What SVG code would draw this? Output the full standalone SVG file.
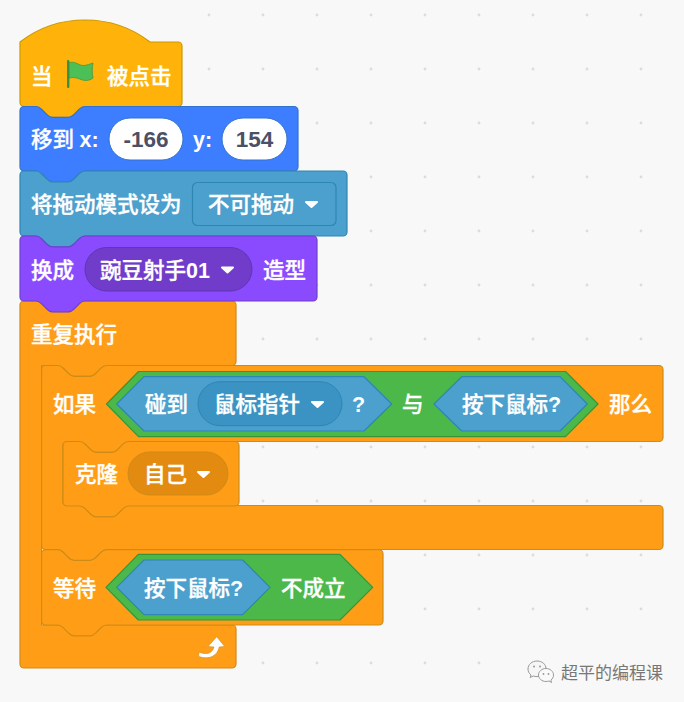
<svg xmlns="http://www.w3.org/2000/svg" width="684" height="702" viewBox="0 0 684 702">
<style>
.t{font-family:"Noto Sans CJK SC","Liberation Sans",sans-serif;font-size:21.5px;font-weight:500;fill:#fff;stroke:#fff;stroke-width:.35}
.l{font-family:"Liberation Sans",sans-serif;font-weight:700;stroke-width:0}
.v{font-family:"Liberation Sans",sans-serif;font-size:22.5px;font-weight:700;fill:#4b5066;text-anchor:middle}
.b{stroke-width:1.2;stroke-linejoin:round}
.ctl{fill:#ff9e16;stroke:#cf8b17}
.sen{fill:#4ca0cd;stroke:#2e86b4}
.op{fill:#4cb84a;stroke:#389438}
.arr{fill:#fff;stroke:#fff;stroke-width:2;stroke-linejoin:round}
.dot{fill:#dcdcdc}
</style>
<defs><circle id="d" r="1.4" class="dot"/></defs>
<rect width="684" height="702" fill="#f8f8f8"/>
<g id="grid">
<use href="#d" x="209" y="15"/><use href="#d" x="263" y="15"/><use href="#d" x="317" y="15"/><use href="#d" x="371" y="15"/><use href="#d" x="425" y="15"/><use href="#d" x="479" y="15"/><use href="#d" x="533" y="15"/><use href="#d" x="587" y="15"/><use href="#d" x="641" y="15"/>
<use href="#d" x="209" y="69"/><use href="#d" x="263" y="69"/><use href="#d" x="317" y="69"/><use href="#d" x="371" y="69"/><use href="#d" x="425" y="69"/><use href="#d" x="479" y="69"/><use href="#d" x="533" y="69"/><use href="#d" x="587" y="69"/><use href="#d" x="641" y="69"/>
<use href="#d" x="317" y="123"/><use href="#d" x="371" y="123"/><use href="#d" x="425" y="123"/><use href="#d" x="479" y="123"/><use href="#d" x="533" y="123"/><use href="#d" x="587" y="123"/><use href="#d" x="641" y="123"/>
<use href="#d" x="371" y="177"/><use href="#d" x="425" y="177"/><use href="#d" x="479" y="177"/><use href="#d" x="533" y="177"/><use href="#d" x="587" y="177"/><use href="#d" x="641" y="177"/>
<use href="#d" x="371" y="231"/><use href="#d" x="425" y="231"/><use href="#d" x="479" y="231"/><use href="#d" x="533" y="231"/><use href="#d" x="587" y="231"/><use href="#d" x="641" y="231"/>
<use href="#d" x="317" y="285"/><use href="#d" x="371" y="285"/><use href="#d" x="425" y="285"/><use href="#d" x="479" y="285"/><use href="#d" x="533" y="285"/><use href="#d" x="587" y="285"/><use href="#d" x="641" y="285"/>
<use href="#d" x="263" y="339"/><use href="#d" x="317" y="339"/><use href="#d" x="371" y="339"/><use href="#d" x="425" y="339"/><use href="#d" x="479" y="339"/><use href="#d" x="533" y="339"/><use href="#d" x="587" y="339"/><use href="#d" x="641" y="339"/>
<use href="#d" x="263" y="447"/><use href="#d" x="317" y="447"/><use href="#d" x="371" y="447"/><use href="#d" x="425" y="447"/><use href="#d" x="479" y="447"/><use href="#d" x="533" y="447"/><use href="#d" x="587" y="447"/><use href="#d" x="641" y="447"/>
<use href="#d" x="263" y="501"/><use href="#d" x="317" y="501"/><use href="#d" x="371" y="501"/><use href="#d" x="425" y="501"/><use href="#d" x="479" y="501"/><use href="#d" x="533" y="501"/><use href="#d" x="587" y="501"/><use href="#d" x="641" y="501"/>
<use href="#d" x="425" y="555"/><use href="#d" x="479" y="555"/><use href="#d" x="533" y="555"/><use href="#d" x="587" y="555"/><use href="#d" x="641" y="555"/>
<use href="#d" x="425" y="609"/><use href="#d" x="479" y="609"/><use href="#d" x="533" y="609"/><use href="#d" x="587" y="609"/><use href="#d" x="641" y="609"/>
<use href="#d" x="263" y="663"/><use href="#d" x="317" y="663"/><use href="#d" x="371" y="663"/><use href="#d" x="425" y="663"/><use href="#d" x="479" y="663"/>
</g>
<g id="connectors"></g>

<g id="repeat">
<path class="b ctl" d="M20 305a4 4 0 0 1 4-4h12.200c2.700 0 4 1.350 5.400 2.700l5.400 5.400c1.350 1.350 2.700 2.700 5.400 2.700h16.200c2.700 0 4-1.350 5.400-2.700l5.400-5.400c1.350-1.350 2.700-2.700 5.400-2.700H232a4 4 0 0 1 4 4v56.500a4 4 0 0 1-4 4H106.400c-2.700 0-4 1.350-5.400 2.700l-5.400 5.400c-1.350 1.350-2.700 2.700-5.400 2.700H74c-2.700 0-4-1.350-5.400-2.700l-5.400-5.400c-1.350-1.350-2.700-2.700-5.400-2.700H41.600V625H232a4 4 0 0 1 4 4v35a4 4 0 0 1-4 4H24a4 4 0 0 1-4-4z"/>
<text class="t" x="31" y="342">重复执行</text>
<path id="loop-arrow" d="M199 652c7 3 13 2 15-5l-6-.5 8.700-9.800 8 9.800-5.500.5c-1.500 8-9 13.500-20.500 9.500z" fill="#fff" stroke="#cf8b17" stroke-width=".6" stroke-linejoin="round"/>
</g>

<g id="hat">
<path class="b" fill="#ffb30a" stroke="#cc9900" d="M20 42C38 28 60 20 85 20s47 8 65 22h28a4 4 0 0 1 4 4v56.500a4 4 0 0 1-4 4H84.700c-2.700 0-4 1.350-5.400 2.700l-5.400 5.400c-1.350 1.350-2.700 2.700-5.400 2.700H52.300c-2.700 0-4-1.350-5.400-2.700l-5.400-5.400c-1.350-1.350-2.700-2.700-5.400-2.700H24a4 4 0 0 1-4-4z"/>
<text class="t" x="31" y="84">当</text>
<path fill="#4cbf56" stroke="#45993d" stroke-width=".8" d="M68 63c7-3 11 3 16 2.500 3-.3 6-1.500 9-2.500-1 5-1 10 0 15-4 3-8 3-12 1.500-4-1.500-8-3-13-1z"/>
<rect x="67" y="60" width="2.400" height="28" rx="1" fill="#3b8f3f"/>
<text class="t" x="107" y="84">被点击</text>
</g>

<g id="motion">
<path class="b" fill="#3d7dff" stroke="#3373cc" d="M20 110.500a4 4 0 0 1 4-4h12.100c2.700 0 4 1.350 5.400 2.700l5.400 5.400c1.350 1.350 2.700 2.700 5.400 2.700h16.200c2.700 0 4-1.350 5.400-2.700l5.400-5.400c1.350-1.350 2.700-2.700 5.400-2.700H294a4 4 0 0 1 4 4V167a4 4 0 0 1-4 4H84.700c-2.700 0-4 1.350-5.400 2.700l-5.400 5.400c-1.350 1.350-2.700 2.700-5.400 2.700H52.300c-2.700 0-4-1.350-5.400-2.700l-5.400-5.400c-1.350-1.350-2.700-2.700-5.400-2.700H24a4 4 0 0 1-4-4z"/>
<text class="t" x="31" y="147">移到</text><text class="t l" x="79.500" y="147">x:</text>
<rect x="109" y="118" width="74" height="42" rx="21" fill="#fff" stroke="#3373cc" stroke-width="1"/>
<text class="v" x="146" y="147">-166</text>
<text class="t l" x="193" y="147">y:</text>
<rect x="222" y="118" width="65" height="42" rx="21" fill="#fff" stroke="#3373cc" stroke-width="1"/>
<text class="v" x="254.500" y="147">154</text>
</g>

<g id="sensing">
<path class="b sen" d="M20 175a4 4 0 0 1 4-4h12.100c2.700 0 4 1.350 5.400 2.700l5.400 5.400c1.350 1.350 2.700 2.700 5.400 2.700h16.200c2.700 0 4-1.350 5.400-2.700l5.400-5.400c1.350-1.350 2.700-2.700 5.400-2.700H343a4 4 0 0 1 4 4V232a4 4 0 0 1-4 4H84.700c-2.700 0-4 1.350-5.400 2.700l-5.400 5.400c-1.350 1.350-2.700 2.700-5.400 2.700H52.300c-2.700 0-4-1.350-5.400-2.700l-5.400-5.400c-1.350-1.350-2.700-2.700-5.400-2.700H24a4 4 0 0 1-4-4z"/>
<text class="t" x="31" y="212">将拖动模式设为</text>
<rect x="192.500" y="182.500" width="143.500" height="43" rx="5" fill="#4ca0cd" stroke="#2e86b4" stroke-width="1.200"/>
<text class="t" x="208" y="212">不可拖动</text>
<path class="arr" d="M306 202h11l-5.500 5z"/>
</g>

<g id="looks">
<path class="b" fill="#8a4bff" stroke="#6f3fd0" d="M20 240a4 4 0 0 1 4-4h12.100c2.700 0 4 1.350 5.400 2.700l5.400 5.400c1.350 1.350 2.700 2.700 5.400 2.700h16.200c2.700 0 4-1.350 5.400-2.700l5.400-5.400c1.350-1.350 2.700-2.700 5.400-2.700H313a4 4 0 0 1 4 4V297a4 4 0 0 1-4 4H84.700c-2.700 0-4 1.350-5.400 2.700l-5.400 5.400c-1.350 1.350-2.700 2.700-5.400 2.700H52.300c-2.700 0-4-1.350-5.400-2.700l-5.400-5.400c-1.350-1.350-2.700-2.700-5.400-2.700H24a4 4 0 0 1-4-4z"/>
<text class="t" x="31" y="278">换成</text>
<rect x="85" y="247.500" width="167" height="43.500" rx="21.700" fill="#703cc9" stroke="#6135b4" stroke-width="1"/>
<text class="t" x="100" y="278">豌豆射手<tspan class="l">01</tspan></text>
<path class="arr" d="M222 267.500h11l-5.500 5z"/>
<text class="t" x="263" y="278">造型</text>
</g>

<g id="if">
<path class="b ctl" d="M41.600 369.500a4 4 0 0 1 4-4h12.200c2.700 0 4 1.350 5.400 2.700l5.400 5.400c1.350 1.350 2.700 2.700 5.400 2.700h16.200c2.700 0 4-1.350 5.400-2.700l5.400-5.400c1.350-1.350 2.700-2.700 5.400-2.700H659a4 4 0 0 1 4 4v68a4 4 0 0 1-4 4H128.400c-2.700 0-4 1.350-5.400 2.700l-5.400 5.400c-1.350 1.350-2.700 2.700-5.400 2.700H96c-2.700 0-4-1.350-5.400-2.700l-5.400-5.400c-1.350-1.350-2.700-2.700-5.400-2.700H67a4 4 0 0 0-4 4v56a4 4 0 0 0 4 4h12.800c2.700 0 4 1.350 5.400 2.700l5.400 5.400c1.350 1.350 2.700 2.700 5.400 2.700h16.200c2.700 0 4-1.350 5.400-2.700l5.400-5.400c1.350-1.350 2.700-2.700 5.400-2.700H659a4 4 0 0 1 4 4v36a4 4 0 0 1-4 4H106.400c-2.700 0-4 1.350-5.400 2.700l-5.400 5.400c-1.350 1.350-2.700 2.700-5.400 2.700H74c-2.700 0-4-1.350-5.400-2.700l-5.400-5.400c-1.350-1.350-2.700-2.700-5.400-2.700H45.600a4 4 0 0 1-4-4z"/>
<text class="t" x="53" y="412">如果</text>
<path class="b op" d="M106.500 404 138.500 371.500H565.500L598 404 565.500 436.700H138.500z"/>
<path class="b sen" d="M116.700 404 144 376.700H364L391.700 404 364 431H144z"/>
<text class="t" x="145" y="412">碰到</text>
<rect x="198" y="381.700" width="144" height="44" rx="22" fill="#3a93c2" stroke="#2e86b4" stroke-width="1"/>
<text class="t" x="214" y="412">鼠标指针</text>
<path class="arr" d="M312 402h11l-5.500 5z"/>
<text class="t l" x="352" y="412">?</text>
<text class="t" x="402" y="412">与</text>
<path class="b sen" d="M434 404 461.700 376.700H560L587.300 404 560 431H461.700z"/>
<text class="t" x="462" y="412">按下鼠标<tspan class="l">?</tspan></text>
<text class="t" x="609" y="412">那么</text>
</g>

<g id="clone">
<path class="b ctl" d="M63 445.500a4 4 0 0 1 4-4h12.800c2.700 0 4 1.350 5.400 2.700l5.400 5.400c1.350 1.350 2.700 2.700 5.400 2.700h16.200c2.700 0 4-1.350 5.400-2.700l5.400-5.400c1.350-1.350 2.700-2.700 5.400-2.700H235a4 4 0 0 1 4 4V502a4 4 0 0 1-4 4H128.400c-2.700 0-4 1.350-5.400 2.700l-5.400 5.400c-1.350 1.350-2.700 2.700-5.400 2.700H96c-2.700 0-4-1.350-5.400-2.700l-5.400-5.400c-1.350-1.350-2.700-2.700-5.400-2.700H67a4 4 0 0 1-4-4z"/>
<text class="t" x="75" y="482">克隆</text>
<rect x="128" y="452" width="100" height="43" rx="21.500" fill="#e38a10" stroke="#cf8b17" stroke-width="1"/>
<text class="t" x="144" y="482">自己</text>
<path class="arr" d="M198 472h11l-5.500 5z"/>
</g>

<g id="wait">
<path class="b ctl" d="M41.600 553.700a4 4 0 0 1 4-4h12.200c2.700 0 4 1.350 5.400 2.700l5.400 5.400c1.350 1.350 2.700 2.700 5.400 2.700h16.200c2.700 0 4-1.350 5.400-2.700l5.400-5.400c1.350-1.350 2.700-2.700 5.400-2.700H379a4 4 0 0 1 4 4V621a4 4 0 0 1-4 4H106.400c-2.700 0-4 1.350-5.400 2.700l-5.400 5.400c-1.350 1.350-2.700 2.700-5.400 2.700H74c-2.700 0-4-1.350-5.400-2.700l-5.400-5.400c-1.350-1.350-2.700-2.700-5.400-2.700H45.600a4 4 0 0 1-4-4z"/>
<text class="t" x="53" y="596">等待</text>
<path class="b op" d="M106 587.300 138.300 554.300H340L372.700 587.300 340 620H138.300z"/>
<path class="b sen" d="M116.700 587.300 144 560H242.700L270 587.300 242.700 614.700H144z"/>
<text class="t" x="144" y="596">按下鼠标<tspan class="l">?</tspan></text>
<text class="t" x="281" y="596">不成立</text>
</g>

<g id="watermark">
<path d="M537 661c-5 0-9 3.500-9 8 0 2.500 1 4.500 3 6l-.8 2.500 3-1.500c1.200.4 2.500.6 3.800.6 5 0 9-3.600 9-8s-4-7.600-9-7.600z" fill="#f6f6f6" stroke="#999" stroke-width="1"/>
<path d="M546 668.500c-4.200 0-7.500 3-7.500 6.500s3.300 6.500 7.500 6.500c1 0 2-.2 3-.5l2.600 1.500-.7-2.400c1.600-1.200 2.600-3 2.600-5.100 0-3.500-3.300-6.500-7.500-6.500z" fill="#fafafa" stroke="#999" stroke-width="1"/>
<circle cx="534" cy="666.500" r="1" fill="#999"/><circle cx="540" cy="666.500" r="1" fill="#999"/>
<circle cx="543.500" cy="674" r=".9" fill="#999"/><circle cx="548.500" cy="674" r=".9" fill="#999"/>
<text x="561" y="679" font-family="'Noto Sans CJK SC',sans-serif" font-size="17" fill="#777">超平的编程课</text>
</g>
</svg>
